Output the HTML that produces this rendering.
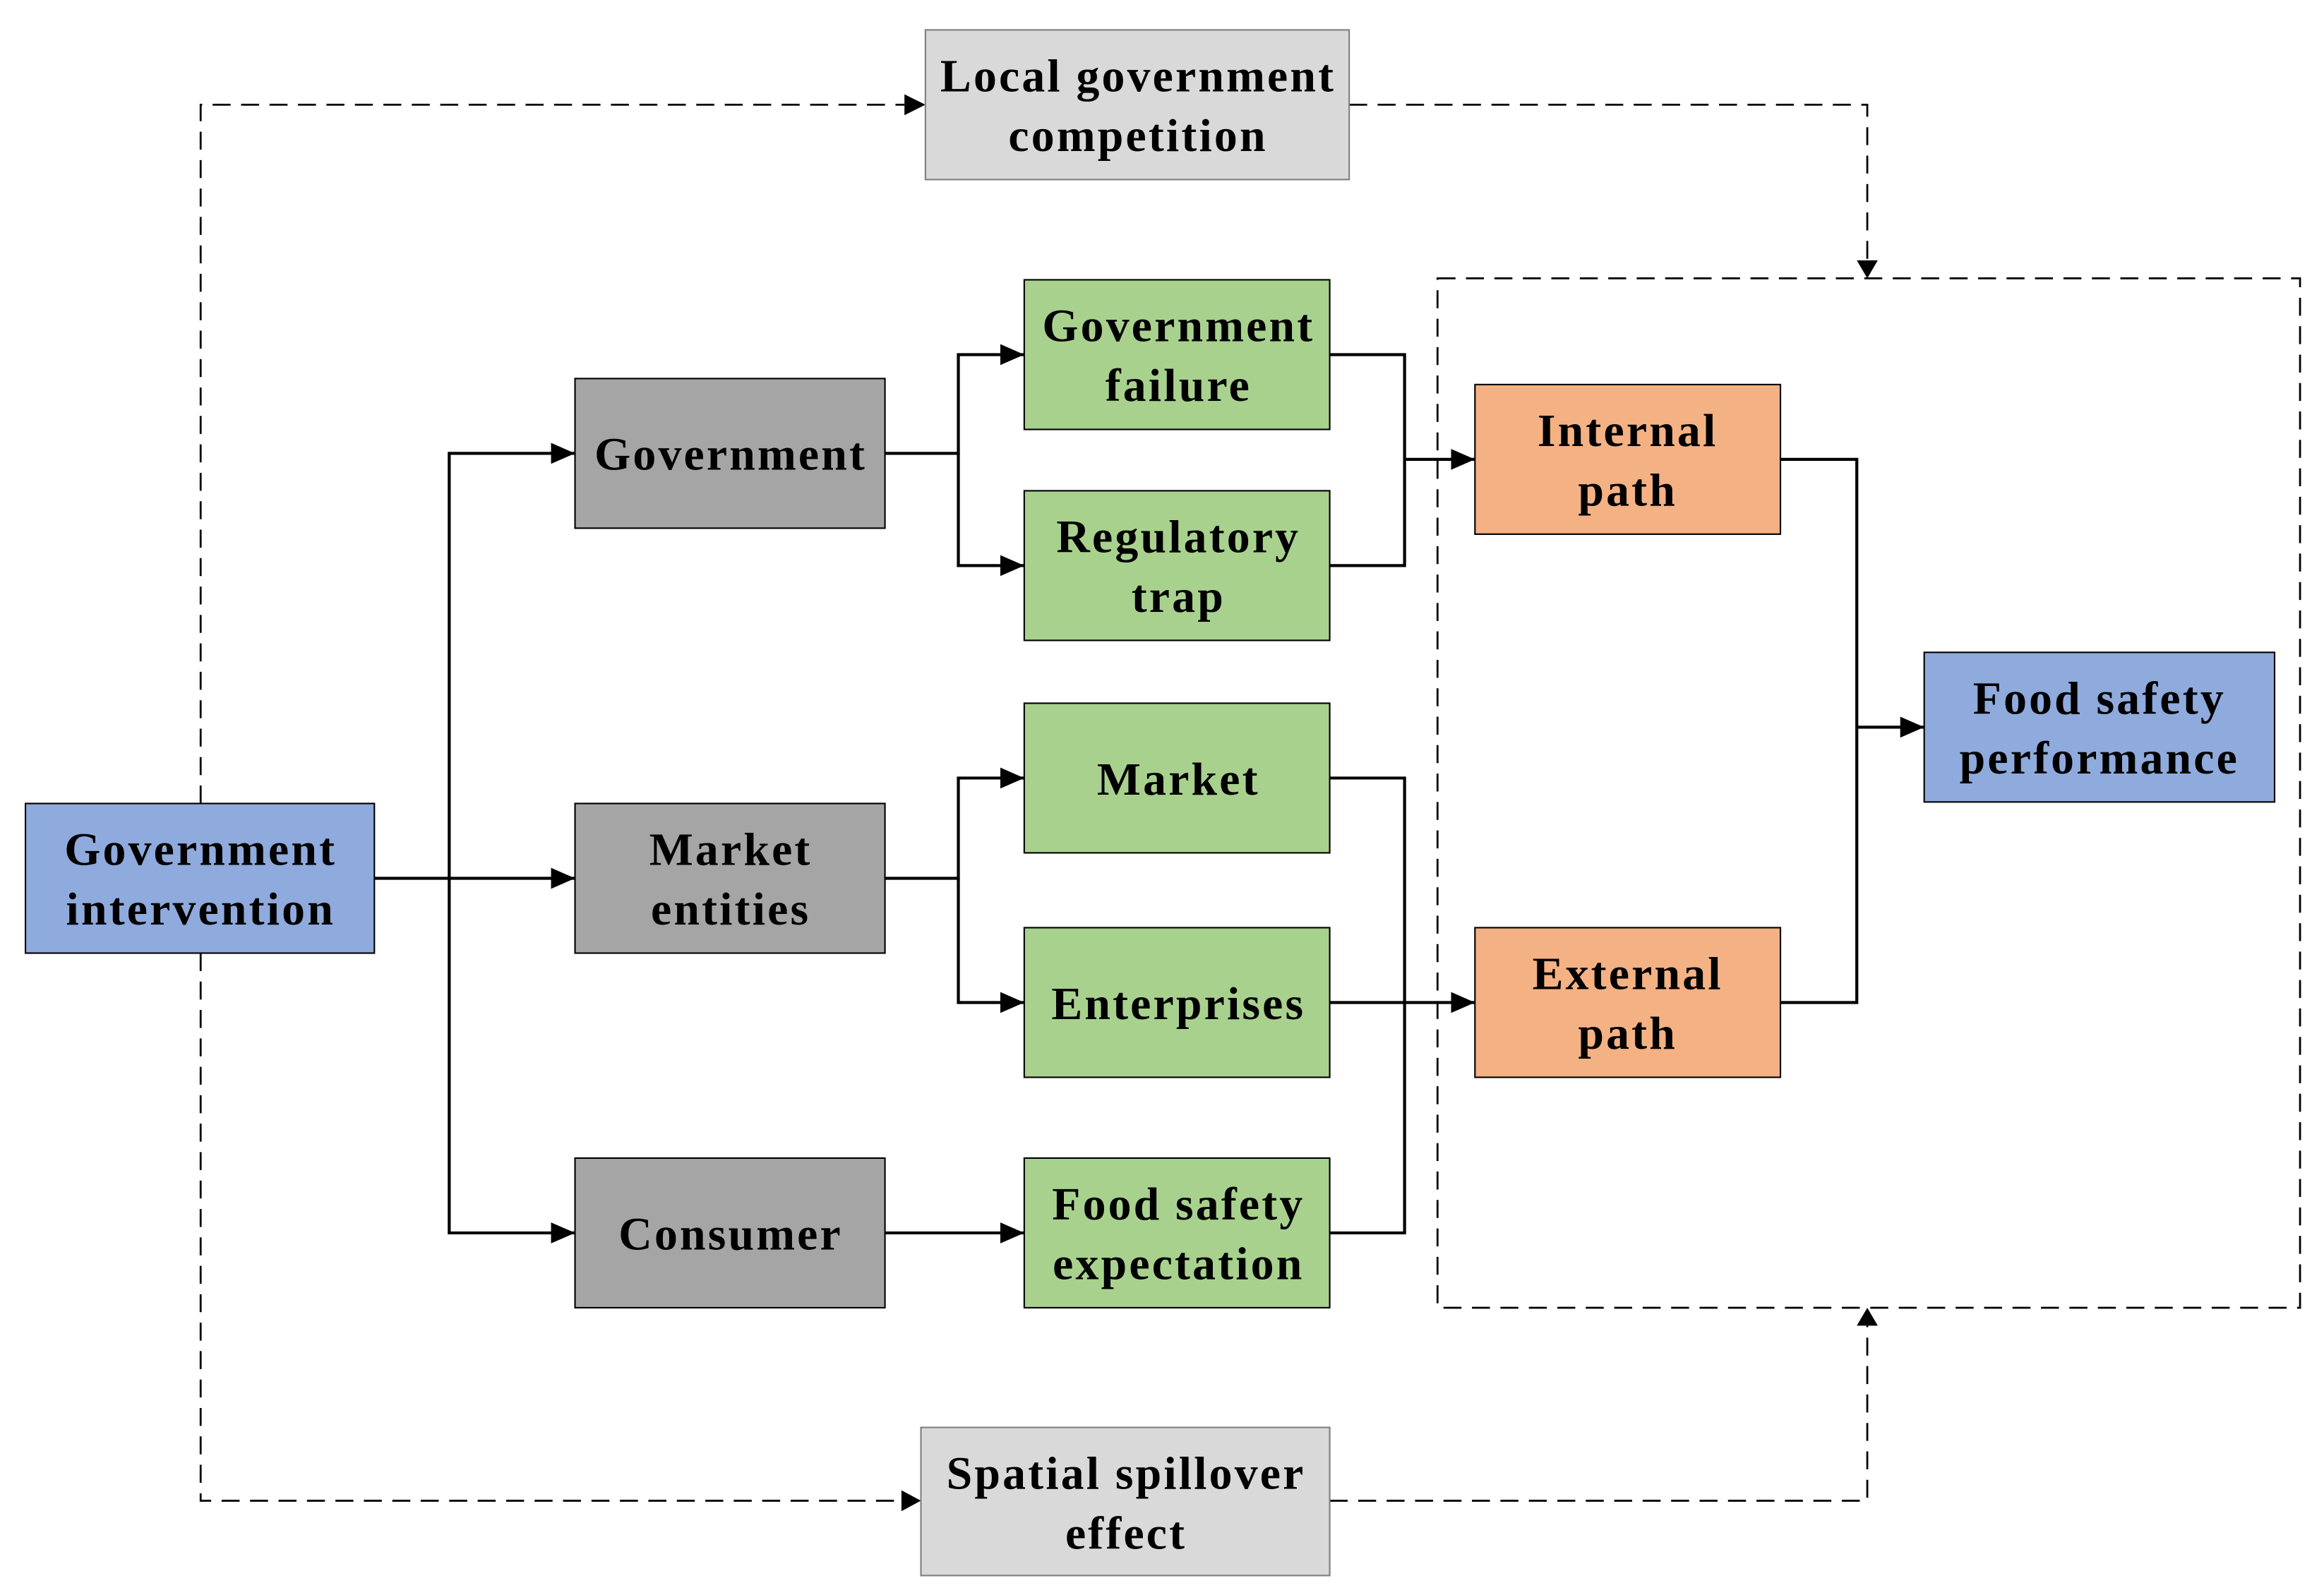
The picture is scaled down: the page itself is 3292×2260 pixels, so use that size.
<!DOCTYPE html>
<html><head><meta charset="utf-8"><style>
html,body{margin:0;padding:0;background:#fff;}
svg{display:block;}
text{font-family:"Liberation Serif",serif;font-weight:bold;font-size:31px;letter-spacing:1.5px;fill:#000;text-anchor:middle;}
</style></head><body>
<svg width="3292" height="2260" viewBox="0 0 1552 1066" preserveAspectRatio="none" xmlns="http://www.w3.org/2000/svg">
<defs>
<marker id="b" markerWidth="16" markerHeight="14" refX="16" refY="7" orient="auto" markerUnits="userSpaceOnUse">
<path d="M0,0 L16,7 L0,14 Z" fill="#000"/></marker>
</defs>
<g fill="none" stroke="#000" stroke-width="1.3" stroke-dasharray="12,7">
<polyline points="134,537 134,70 604,70"/>
<polyline points="901,70 1247,70 1247,174"/>
<polyline points="134,637 134,1003 602,1003"/>
<polyline points="888,1003 1247,1003 1247,886"/>
<rect x="960" y="186" width="576" height="688"/>
</g>
<path d="M604,63 L618,70 L604,77Z M1240,174 L1247,186 L1254,174Z M602,996 L615,1003 L602,1010Z M1240,886 L1247,874 L1254,886Z" fill="#000"/>
<g fill="none" stroke="#000" stroke-width="2" marker-end="url(#b)">
<line x1="250" y1="587" x2="384" y2="587"/>
<polyline points="300,587 300,303 384,303"/>
<polyline points="300,587 300,824 384,824"/>
<polyline points="591,303 640,303 640,237 684,237"/>
<polyline points="640,303 640,378 684,378"/>
<polyline points="591,587 640,587 640,520 684,520"/>
<polyline points="640,587 640,670 684,670"/>
<line x1="591" y1="824" x2="684" y2="824"/>
<line x1="938" y1="307" x2="985" y2="307"/>
<line x1="888" y1="670" x2="985" y2="670"/>
<line x1="1240" y1="486" x2="1285" y2="486"/>
</g>
<g fill="none" stroke="#000" stroke-width="2">
<polyline points="888,237 938,237 938,378 888,378"/>
<polyline points="888,520 938,520 938,824 888,824"/>
<polyline points="1189,307 1240,307 1240,670 1189,670"/>
</g>
<g stroke-width="1">
<rect x="618" y="20" width="283" height="100" fill="#d9d9d9" stroke="#7f7f7f"/>
<rect x="615" y="954" width="273" height="99" fill="#d9d9d9" stroke="#7f7f7f"/>
<rect x="17" y="537" width="233" height="100" fill="#8faadc" stroke="#000"/>
<rect x="1285" y="436" width="234" height="100" fill="#8faadc" stroke="#000"/>
<rect x="384" y="253" width="207" height="100" fill="#a5a5a5" stroke="#000"/>
<rect x="384" y="537" width="207" height="100" fill="#a5a5a5" stroke="#000"/>
<rect x="384" y="774" width="207" height="100" fill="#a5a5a5" stroke="#000"/>
<rect x="684" y="187" width="204" height="100" fill="#a9d18e" stroke="#000"/>
<rect x="684" y="328" width="204" height="100" fill="#a9d18e" stroke="#000"/>
<rect x="684" y="470" width="204" height="100" fill="#a9d18e" stroke="#000"/>
<rect x="684" y="620" width="204" height="100" fill="#a9d18e" stroke="#000"/>
<rect x="684" y="774" width="204" height="100" fill="#a9d18e" stroke="#000"/>
<rect x="985" y="257" width="204" height="100" fill="#f4b183" stroke="#000"/>
<rect x="985" y="620" width="204" height="100" fill="#f4b183" stroke="#000"/>
</g>
<text x="760" y="61">Local government</text><text x="760" y="101">competition</text>
<text x="752" y="995">Spatial spillover</text><text x="752" y="1035">effect</text>
<text x="134" y="578">Government</text><text x="134" y="618">intervention</text>
<text x="1402" y="477">Food safety</text><text x="1402" y="517">performance</text>
<text x="488" y="314">Government</text>
<text x="488" y="578">Market</text><text x="488" y="618">entities</text>
<text x="488" y="835">Consumer</text>
<text x="787" y="228">Government</text><text x="787" y="268">failure</text>
<text x="787" y="369">Regulatory</text><text x="787" y="409">trap</text>
<text x="787" y="531">Market</text>
<text x="787" y="681">Enterprises</text>
<text x="787" y="815">Food safety</text><text x="787" y="855">expectation</text>
<text x="1087" y="298">Internal</text><text x="1087" y="338">path</text>
<text x="1087" y="661">External</text><text x="1087" y="701">path</text>
</svg>
</body></html>
